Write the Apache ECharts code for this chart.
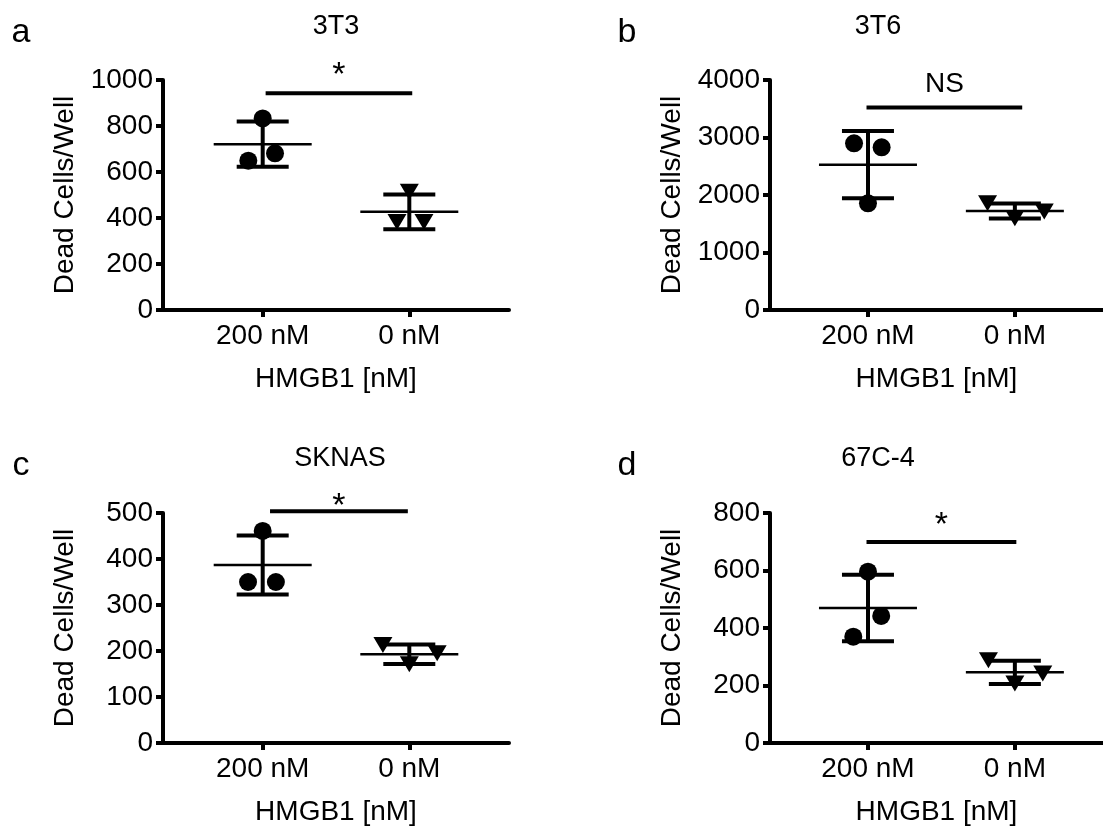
<!DOCTYPE html>
<html>
<head>
<meta charset="utf-8">
<title>Dead cells per well</title>
<script src="https://cdn.jsdelivr.net/npm/echarts@6/dist/echarts.min.js"></script>
<style>
  html, body { margin: 0; padding: 0; background: #fff; }
  #chart { width: 1103px; height: 830px; }
</style>
</head>
<body>
<div id="chart"></div>
<script>
var groups = ['200 nM', '0 nM'];
var panelNames = ['3T3', '3T6', 'SKNAS', '67C-4'];
var panelLetters = ['a', 'b', 'c', 'd'];
var yMax = [1000, 4000, 500, 800];
var yStep = [200, 1000, 100, 200];

// dead cells per well, three wells per group
var with200 = [
  [833, 681, 649],
  [2899, 2829, 1855],
  [461, 350, 350],
  [596, 442, 370]
];
var with0 = [
  [514, 383, 383],
  [1857, 1596, 1712],
  [213, 171, 195],
  [288, 207, 242]
];
// sideways scatter of the dots inside a group
var jitter200 = [[0, 0.084, -0.098], [-0.095, 0.093, 0], [0, -0.1, 0.09], [0, 0.09, -0.1]];
var jitter0 = [[0, -0.084, 0.1], [-0.186, 0, 0.2], [-0.18, 0, 0.19], [-0.18, 0, 0.19]];

var sigText = ['*', 'NS', '*', '*'];
var sigLevel = [942, 3520, 504, 699];
var sigFrom = [1.02, 0.99, 1.05, 0.99];
var sigTo = [2.02, 2.05, 1.99, 2.01];

var FONT = '"Liberation Sans", Arial, Helvetica, sans-serif';

// layout
var grids = [
  {left: 163, top: 80, width: 346, height: 230},
  {left: 770, top: 80, width: 333, height: 230},
  {left: 163, top: 513, width: 346, height: 230},
  {left: 770, top: 513, width: 333, height: 230}
];
var xRange = [[0.32, 2.68], [0.333, 2.6], [0.32, 2.68], [0.333, 2.6]];
var titlePos = [[336, 27], [878, 27], [340, 459], [878, 459]];
var letterPos = [[21, 33], [627, 33], [21, 466], [627, 466]];
var sigGap = [18, 23, 5, 16];

function mean(arr) {
  var s = 0;
  for (var i = 0; i < arr.length; i++) s += arr[i];
  return s / arr.length;
}
function sd(arr) {
  var m = mean(arr), s = 0;
  for (var i = 0; i < arr.length; i++) s += (arr[i] - m) * (arr[i] - m);
  return Math.sqrt(s / (arr.length - 1));
}

function renderBars(params, api) {
  var x = api.value(0), m = api.value(1), s = api.value(2);
  var c = api.coord([x, m]);
  var hi = api.coord([x, m + s]);
  var lo = api.coord([x, m - s]);
  var thick = {stroke: '#000', lineWidth: 4};
  return {
    type: 'group',
    children: [
      {type: 'line', shape: {x1: c[0] - 49, y1: c[1], x2: c[0] + 49, y2: c[1]}, style: {stroke: '#000', lineWidth: 2.5}},
      {type: 'line', shape: {x1: c[0], y1: hi[1], x2: c[0], y2: lo[1]}, style: thick},
      {type: 'line', shape: {x1: c[0] - 26, y1: hi[1], x2: c[0] + 26, y2: hi[1]}, style: thick},
      {type: 'line', shape: {x1: c[0] - 26, y1: lo[1], x2: c[0] + 26, y2: lo[1]}, style: thick}
    ]
  };
}

function sigRenderer(k) {
  return function(params, api) {
    var a = api.coord([api.value(0), api.value(2)]);
    var b = api.coord([api.value(1), api.value(2)]);
    var star = sigText[k] === '*';
    return {
      type: 'group',
      children: [
        {type: 'line', shape: {x1: a[0], y1: a[1], x2: b[0], y2: b[1]}, style: {stroke: '#000', lineWidth: 4}},
        {type: 'text', x: (a[0] + b[0]) / 2, y: a[1] - sigGap[k], style: {
          text: sigText[k], textAlign: 'center', textVerticalAlign: 'middle',
          fill: '#000', font: (star ? '34px ' : '28px ') + FONT
        }}
      ]
    };
  };
}

var xAxes = [], yAxes = [], series = [], graphics = [];

for (var k = 0; k < 4; k++) {
  xAxes.push({
    type: 'value', gridIndex: k, min: xRange[k][0], max: xRange[k][1],
    name: 'HMGB1 [nM]', nameLocation: 'middle', nameGap: 55,
    nameTextStyle: {color: '#000', fontSize: 28, fontFamily: FONT},
    axisLine: {show: true, onZero: false, lineStyle: {color: '#000', width: 4}},
    axisTick: {show: true, customValues: [1, 2], length: 7, lineStyle: {color: '#000', width: 4}},
    axisLabel: {customValues: [1, 2], margin: 12, color: '#000', fontSize: 28, fontFamily: FONT,
      formatter: function(v) { return groups[Math.round(v) - 1]; }},
    splitLine: {show: false}
  });
  yAxes.push({
    type: 'value', gridIndex: k, min: 0, max: yMax[k], interval: yStep[k],
    name: 'Dead Cells/Well', nameLocation: 'middle', nameGap: 84, nameRotate: 90,
    nameTextStyle: {color: '#000', fontSize: 28, fontFamily: FONT},
    axisLine: {show: true, lineStyle: {color: '#000', width: 4}},
    axisTick: {show: true, length: 7, lineStyle: {color: '#000', width: 4}},
    axisLabel: {margin: 10, color: '#000', fontSize: 28, fontFamily: FONT,
      formatter: function(v) { return String(v); }},
    splitLine: {show: false}
  });

  series.push({
    type: 'scatter', xAxisIndex: k, yAxisIndex: k,
    symbol: 'circle', symbolSize: 18,
    itemStyle: {color: '#000', opacity: 1},
    data: with200[k].map(function(v, i) { return [1 + jitter200[k][i], v]; })
  });
  series.push({
    type: 'scatter', xAxisIndex: k, yAxisIndex: k,
    symbol: 'triangle', symbolRotate: 180, symbolSize: [19, 16],
    itemStyle: {color: '#000', opacity: 1},
    data: with0[k].map(function(v, i) { return [2 + jitter0[k][i], v]; })
  });
  series.push({
    type: 'custom', xAxisIndex: k, yAxisIndex: k,
    renderItem: renderBars, encode: {x: 0, y: 1}, z: 3,
    data: [
      [1, mean(with200[k]), sd(with200[k])],
      [2, mean(with0[k]), sd(with0[k])]
    ]
  });
  series.push({
    type: 'custom', xAxisIndex: k, yAxisIndex: k,
    renderItem: sigRenderer(k), encode: {x: [0, 1], y: 2},
    data: [[sigFrom[k], sigTo[k], sigLevel[k]]]
  });

  graphics.push({
    type: 'text', x: titlePos[k][0], y: titlePos[k][1],
    style: {text: panelNames[k], textAlign: 'center', textVerticalAlign: 'middle', fill: '#000', font: '27px ' + FONT}
  });
  graphics.push({
    type: 'text', x: letterPos[k][0], y: letterPos[k][1],
    style: {text: panelLetters[k], textAlign: 'center', textVerticalAlign: 'middle', fill: '#000', font: '34px ' + FONT}
  });
}

var option = {
  backgroundColor: '#fff',
  animation: false,
  grid: grids,
  xAxis: xAxes,
  yAxis: yAxes,
  series: series,
  graphic: graphics
};

var myChart = echarts.init(document.getElementById('chart'));
myChart.setOption(option);
</script>
</body>
</html>
